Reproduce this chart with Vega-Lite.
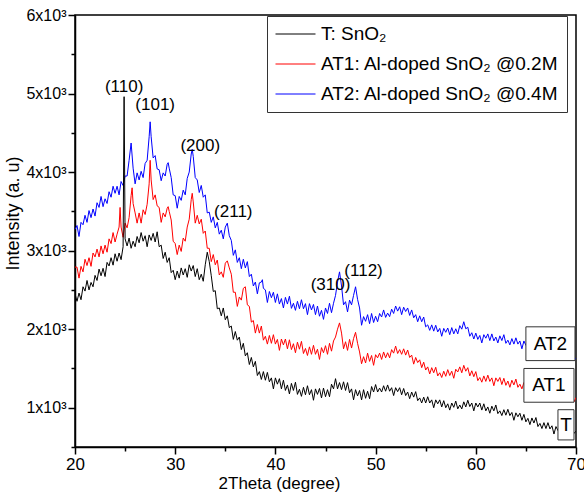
{
  "$schema": "https://vega.github.io/schema/vega-lite/v6.json",
  "width": 501,
  "height": 432,
  "autosize": {"type": "none"},
  "padding": {"left": 75, "top": 15, "right": 8, "bottom": 49},
  "background": "white",
  "config": {
    "font": "Liberation Sans",
    "view": {"stroke": "black", "strokeWidth": 1.5},
    "axis": {"grid": false, "domainColor": "black", "domainWidth": 1.5, "tickColor": "black", "tickWidth": 1.5, "labelColor": "black", "titleColor": "black", "labelFont": "Liberation Sans", "titleFont": "Liberation Sans", "titleFontWeight": "normal", "labelFontSize": 17, "titleFontSize": 17},
    "legend": {"labelFont": "Liberation Sans", "labelFontSize": 19, "labelColor": "black"}
  },
  "datasets": {
    "t": [
{"x":20.0,"y":2450},{"x":20.2,"y":2355},{"x":20.4,"y":2460},{"x":20.6,"y":2375},{"x":20.8,"y":2540},{"x":21.0,"y":2485},{"x":21.2,"y":2620},{"x":21.4,"y":2500},{"x":21.6,"y":2595},{"x":21.8,"y":2540},{"x":22.0,"y":2685},{"x":22.2,"y":2620},{"x":22.4,"y":2765},{"x":22.6,"y":2680},{"x":22.8,"y":2775},{"x":23.0,"y":2670},{"x":23.2,"y":2850},{"x":23.4,"y":2805},{"x":23.6,"y":2910},{"x":23.8,"y":2815},{"x":24.0,"y":2960},{"x":24.2,"y":2865},{"x":24.4,"y":2970},{"x":24.6,"y":2885},{"x":24.8,"y":3050},{"x":24.9,"y":4960},{"x":25.0,"y":3150},{"x":25.2,"y":3060},{"x":25.4,"y":3160},{"x":25.6,"y":3030},{"x":25.8,"y":3120},{"x":26.0,"y":3050},{"x":26.2,"y":3180},{"x":26.4,"y":3100},{"x":26.6,"y":3230},{"x":26.8,"y":3120},{"x":27.0,"y":3190},{"x":27.2,"y":3050},{"x":27.4,"y":3200},{"x":27.6,"y":3130},{"x":27.8,"y":3220},{"x":28.0,"y":3110},{"x":28.2,"y":3240},{"x":28.4,"y":3050},{"x":28.6,"y":3070},{"x":28.8,"y":2900},{"x":29.0,"y":2980},{"x":29.2,"y":2850},{"x":29.4,"y":2910},{"x":29.6,"y":2720},{"x":29.8,"y":2750},{"x":30.0,"y":2630},{"x":30.2,"y":2740},{"x":30.4,"y":2650},{"x":30.6,"y":2780},{"x":30.8,"y":2690},{"x":31.0,"y":2770},{"x":31.2,"y":2660},{"x":31.4,"y":2820},{"x":31.6,"y":2740},{"x":31.8,"y":2810},{"x":32.0,"y":2670},{"x":32.2,"y":2770},{"x":32.4,"y":2630},{"x":32.6,"y":2700},{"x":32.8,"y":2610},{"x":33.0,"y":2820},{"x":33.2,"y":2980},{"x":33.4,"y":2860},{"x":33.6,"y":2680},{"x":33.8,"y":2480},{"x":34.0,"y":2490},{"x":34.2,"y":2260},{"x":34.4,"y":2270},{"x":34.6,"y":2170},{"x":34.8,"y":2270},{"x":35.0,"y":2120},{"x":35.2,"y":2170},{"x":35.4,"y":2020},{"x":35.6,"y":2040},{"x":35.8,"y":1870},{"x":36.0,"y":1970},{"x":36.2,"y":1860},{"x":36.4,"y":1900},{"x":36.6,"y":1740},{"x":36.8,"y":1820},{"x":37.0,"y":1660},{"x":37.2,"y":1700},{"x":37.4,"y":1550},{"x":37.6,"y":1640},{"x":37.8,"y":1520},{"x":38.0,"y":1590},{"x":38.2,"y":1410},{"x":38.4,"y":1460},{"x":38.6,"y":1360},{"x":38.8,"y":1460},{"x":39.0,"y":1350},{"x":39.2,"y":1450},{"x":39.4,"y":1330},{"x":39.6,"y":1380},{"x":39.8,"y":1240},{"x":40.0,"y":1380},{"x":40.2,"y":1300},{"x":40.4,"y":1370},{"x":40.6,"y":1240},{"x":40.8,"y":1350},{"x":41.0,"y":1220},{"x":41.2,"y":1290},{"x":41.4,"y":1175},{"x":41.6,"y":1310},{"x":41.8,"y":1220},{"x":42.0,"y":1325},{"x":42.2,"y":1170},{"x":42.4,"y":1235},{"x":42.6,"y":1145},{"x":42.8,"y":1260},{"x":43.0,"y":1165},{"x":43.2,"y":1280},{"x":43.4,"y":1165},{"x":43.6,"y":1230},{"x":43.8,"y":1095},{"x":44.0,"y":1240},{"x":44.2,"y":1170},{"x":44.4,"y":1245},{"x":44.6,"y":1125},{"x":44.8,"y":1250},{"x":45.0,"y":1140},{"x":45.2,"y":1230},{"x":45.4,"y":1140},{"x":45.6,"y":1300},{"x":45.8,"y":1240},{"x":46.0,"y":1370},{"x":46.2,"y":1240},{"x":46.4,"y":1320},{"x":46.6,"y":1230},{"x":46.8,"y":1330},{"x":47.0,"y":1220},{"x":47.2,"y":1320},{"x":47.4,"y":1190},{"x":47.6,"y":1240},{"x":47.8,"y":1100},{"x":48.0,"y":1230},{"x":48.2,"y":1150},{"x":48.4,"y":1220},{"x":48.6,"y":1100},{"x":48.8,"y":1230},{"x":49.0,"y":1120},{"x":49.2,"y":1210},{"x":49.4,"y":1115},{"x":49.6,"y":1270},{"x":49.8,"y":1200},{"x":50.0,"y":1295},{"x":50.2,"y":1200},{"x":50.4,"y":1250},{"x":50.6,"y":1200},{"x":50.8,"y":1280},{"x":51.0,"y":1210},{"x":51.2,"y":1290},{"x":51.4,"y":1210},{"x":51.6,"y":1255},{"x":51.8,"y":1155},{"x":52.0,"y":1255},{"x":52.2,"y":1205},{"x":52.4,"y":1255},{"x":52.6,"y":1165},{"x":52.8,"y":1245},{"x":53.0,"y":1155},{"x":53.2,"y":1200},{"x":53.4,"y":1115},{"x":53.6,"y":1200},{"x":53.8,"y":1135},{"x":54.0,"y":1205},{"x":54.2,"y":1090},{"x":54.4,"y":1125},{"x":54.6,"y":1060},{"x":54.8,"y":1135},{"x":55.0,"y":1060},{"x":55.2,"y":1140},{"x":55.4,"y":1060},{"x":55.6,"y":1100},{"x":55.8,"y":1000},{"x":56.0,"y":1100},{"x":56.2,"y":1050},{"x":56.4,"y":1100},{"x":56.6,"y":1010},{"x":56.8,"y":1090},{"x":57.0,"y":1000},{"x":57.2,"y":1050},{"x":57.4,"y":970},{"x":57.6,"y":1060},{"x":57.8,"y":1005},{"x":58.0,"y":1085},{"x":58.2,"y":985},{"x":58.4,"y":1035},{"x":58.6,"y":985},{"x":58.8,"y":1075},{"x":59.0,"y":1010},{"x":59.2,"y":1095},{"x":59.4,"y":1015},{"x":59.6,"y":1060},{"x":59.8,"y":960},{"x":60.0,"y":1060},{"x":60.2,"y":1010},{"x":60.4,"y":1060},{"x":60.6,"y":970},{"x":60.8,"y":1050},{"x":61.0,"y":960},{"x":61.2,"y":1010},{"x":61.4,"y":930},{"x":61.6,"y":1020},{"x":61.8,"y":960},{"x":62.0,"y":1035},{"x":62.2,"y":925},{"x":62.4,"y":960},{"x":62.6,"y":900},{"x":62.8,"y":975},{"x":63.0,"y":905},{"x":63.2,"y":980},{"x":63.4,"y":900},{"x":63.6,"y":940},{"x":63.8,"y":840},{"x":64.0,"y":935},{"x":64.2,"y":885},{"x":64.4,"y":930},{"x":64.6,"y":840},{"x":64.8,"y":915},{"x":65.0,"y":820},{"x":65.2,"y":865},{"x":65.4,"y":785},{"x":65.6,"y":870},{"x":65.8,"y":805},{"x":66.0,"y":875},{"x":66.2,"y":760},{"x":66.4,"y":800},{"x":66.6,"y":735},{"x":66.8,"y":810},{"x":67.0,"y":735},{"x":67.2,"y":810},{"x":67.4,"y":730},{"x":67.6,"y":770},{"x":67.8,"y":665},{"x":68.0,"y":760},{"x":68.2,"y":710},{"x":68.4,"y":760},{"x":68.6,"y":670},{"x":68.8,"y":750},{"x":69.0,"y":665},{"x":69.2,"y":715},{"x":69.4,"y":640},{"x":69.6,"y":730},{"x":69.8,"y":675},{"x":70.0,"y":700}
    ],
    "a1": [
{"x":20.0,"y":2790},{"x":20.2,"y":2790},{"x":20.4,"y":2650},{"x":20.6,"y":2800},{"x":20.8,"y":2730},{"x":21.0,"y":2890},{"x":21.2,"y":2810},{"x":21.4,"y":2910},{"x":21.6,"y":2800},{"x":21.8,"y":2970},{"x":22.0,"y":2920},{"x":22.2,"y":3020},{"x":22.4,"y":2920},{"x":22.6,"y":3060},{"x":22.8,"y":2960},{"x":23.0,"y":3070},{"x":23.2,"y":2980},{"x":23.4,"y":3150},{"x":23.6,"y":3090},{"x":23.8,"y":3230},{"x":24.0,"y":3110},{"x":24.2,"y":3210},{"x":24.4,"y":3300},{"x":24.5,"y":3550},{"x":24.6,"y":3300},{"x":24.8,"y":3170},{"x":25.0,"y":3350},{"x":25.2,"y":3290},{"x":25.4,"y":3420},{"x":25.6,"y":3700},{"x":25.7,"y":3800},{"x":25.8,"y":3600},{"x":26.0,"y":3480},{"x":26.2,"y":3350},{"x":26.4,"y":3480},{"x":26.6,"y":3350},{"x":26.8,"y":3520},{"x":27.0,"y":3460},{"x":27.2,"y":3590},{"x":27.4,"y":3850},{"x":27.5,"y":4150},{"x":27.6,"y":3900},{"x":27.8,"y":3650},{"x":28.0,"y":3710},{"x":28.2,"y":3570},{"x":28.4,"y":3550},{"x":28.6,"y":3360},{"x":28.8,"y":3480},{"x":29.0,"y":3430},{"x":29.2,"y":3540},{"x":29.3,"y":3560},{"x":29.4,"y":3500},{"x":29.6,"y":3390},{"x":29.8,"y":3120},{"x":30.0,"y":3090},{"x":30.2,"y":2950},{"x":30.4,"y":3070},{"x":30.6,"y":2990},{"x":30.8,"y":3160},{"x":31.0,"y":3120},{"x":31.2,"y":3300},{"x":31.4,"y":3400},{"x":31.6,"y":3650},{"x":31.7,"y":3730},{"x":31.8,"y":3620},{"x":32.0,"y":3350},{"x":32.2,"y":3450},{"x":32.4,"y":3340},{"x":32.6,"y":3400},{"x":32.8,"y":3220},{"x":33.0,"y":3250},{"x":33.2,"y":3030},{"x":33.4,"y":3030},{"x":33.6,"y":2860},{"x":33.8,"y":2950},{"x":34.0,"y":2820},{"x":34.2,"y":2880},{"x":34.4,"y":2690},{"x":34.6,"y":2730},{"x":34.8,"y":2660},{"x":35.0,"y":2840},{"x":35.2,"y":2870},{"x":35.4,"y":2780},{"x":35.6,"y":2700},{"x":35.8,"y":2470},{"x":36.0,"y":2470},{"x":36.2,"y":2290},{"x":36.4,"y":2410},{"x":36.6,"y":2370},{"x":36.8,"y":2520},{"x":37.0,"y":2540},{"x":37.2,"y":2310},{"x":37.4,"y":2290},{"x":37.6,"y":2090},{"x":37.8,"y":2110},{"x":38.0,"y":1950},{"x":38.2,"y":2060},{"x":38.4,"y":1950},{"x":38.6,"y":2040},{"x":38.8,"y":1860},{"x":39.0,"y":1910},{"x":39.2,"y":1810},{"x":39.4,"y":1920},{"x":39.6,"y":1820},{"x":39.8,"y":1930},{"x":40.0,"y":1810},{"x":40.2,"y":1870},{"x":40.4,"y":1730},{"x":40.6,"y":1875},{"x":40.8,"y":1800},{"x":41.0,"y":1875},{"x":41.2,"y":1750},{"x":41.4,"y":1865},{"x":41.6,"y":1740},{"x":41.8,"y":1815},{"x":42.0,"y":1700},{"x":42.2,"y":1835},{"x":42.4,"y":1745},{"x":42.6,"y":1845},{"x":42.8,"y":1690},{"x":43.0,"y":1755},{"x":43.2,"y":1665},{"x":43.4,"y":1775},{"x":43.6,"y":1680},{"x":43.8,"y":1795},{"x":44.0,"y":1680},{"x":44.2,"y":1745},{"x":44.4,"y":1615},{"x":44.6,"y":1765},{"x":44.8,"y":1700},{"x":45.0,"y":1790},{"x":45.2,"y":1680},{"x":45.4,"y":1820},{"x":45.6,"y":1720},{"x":45.8,"y":1850},{"x":46.0,"y":1900},{"x":46.2,"y":2000},{"x":46.4,"y":2080},{"x":46.6,"y":1950},{"x":46.8,"y":1750},{"x":47.0,"y":1840},{"x":47.2,"y":1730},{"x":47.4,"y":1870},{"x":47.6,"y":1760},{"x":47.8,"y":1880},{"x":48.0,"y":1960},{"x":48.2,"y":1820},{"x":48.4,"y":1710},{"x":48.6,"y":1560},{"x":48.8,"y":1650},{"x":49.0,"y":1570},{"x":49.2,"y":1695},{"x":49.4,"y":1590},{"x":49.6,"y":1665},{"x":49.8,"y":1540},{"x":50.0,"y":1675},{"x":50.2,"y":1635},{"x":50.4,"y":1695},{"x":50.6,"y":1615},{"x":50.8,"y":1710},{"x":51.0,"y":1635},{"x":51.2,"y":1700},{"x":51.4,"y":1635},{"x":51.6,"y":1740},{"x":51.8,"y":1695},{"x":52.0,"y":1785},{"x":52.2,"y":1690},{"x":52.4,"y":1740},{"x":52.6,"y":1680},{"x":52.8,"y":1750},{"x":53.0,"y":1670},{"x":53.2,"y":1735},{"x":53.4,"y":1640},{"x":53.6,"y":1670},{"x":53.8,"y":1555},{"x":54.0,"y":1640},{"x":54.2,"y":1575},{"x":54.4,"y":1610},{"x":54.6,"y":1510},{"x":54.8,"y":1580},{"x":55.0,"y":1480},{"x":55.2,"y":1520},{"x":55.4,"y":1430},{"x":55.6,"y":1510},{"x":55.8,"y":1445},{"x":56.0,"y":1515},{"x":56.2,"y":1405},{"x":56.4,"y":1445},{"x":56.6,"y":1385},{"x":56.8,"y":1465},{"x":57.0,"y":1400},{"x":57.2,"y":1485},{"x":57.4,"y":1410},{"x":57.6,"y":1465},{"x":57.8,"y":1375},{"x":58.0,"y":1490},{"x":58.2,"y":1455},{"x":58.4,"y":1520},{"x":58.6,"y":1445},{"x":58.8,"y":1540},{"x":59.0,"y":1465},{"x":59.2,"y":1510},{"x":59.4,"y":1405},{"x":59.6,"y":1470},{"x":59.8,"y":1395},{"x":60.0,"y":1460},{"x":60.2,"y":1345},{"x":60.4,"y":1385},{"x":60.6,"y":1325},{"x":60.8,"y":1405},{"x":61.0,"y":1335},{"x":61.2,"y":1415},{"x":61.4,"y":1335},{"x":61.6,"y":1380},{"x":61.8,"y":1280},{"x":62.0,"y":1380},{"x":62.2,"y":1335},{"x":62.4,"y":1385},{"x":62.6,"y":1295},{"x":62.8,"y":1375},{"x":63.0,"y":1285},{"x":63.2,"y":1340},{"x":63.4,"y":1260},{"x":63.6,"y":1350},{"x":63.8,"y":1290},{"x":64.0,"y":1365},{"x":64.2,"y":1260},{"x":64.4,"y":1300},{"x":64.6,"y":1240},{"x":64.8,"y":1320},{"x":65.0,"y":1250},{"x":65.2,"y":1330},{"x":65.4,"y":1250},{"x":65.6,"y":1295},{"x":65.8,"y":1195},{"x":66.0,"y":1295},{"x":66.2,"y":1245},{"x":66.4,"y":1295},{"x":66.6,"y":1205},{"x":66.8,"y":1285},{"x":67.0,"y":1195},{"x":67.2,"y":1245},{"x":67.4,"y":1165},{"x":67.6,"y":1250},{"x":67.8,"y":1190},{"x":68.0,"y":1265},{"x":68.2,"y":1155},{"x":68.4,"y":1195},{"x":68.6,"y":1130},{"x":68.8,"y":1210},{"x":69.0,"y":1140},{"x":69.2,"y":1215},{"x":69.4,"y":1135},{"x":69.6,"y":1180},{"x":69.8,"y":1075},{"x":70.0,"y":1130}
    ],
    "a2": [
{"x":20.0,"y":3270},{"x":20.2,"y":3320},{"x":20.4,"y":3180},{"x":20.6,"y":3360},{"x":20.8,"y":3330},{"x":21.0,"y":3450},{"x":21.2,"y":3360},{"x":21.4,"y":3510},{"x":21.6,"y":3420},{"x":21.8,"y":3530},{"x":22.0,"y":3440},{"x":22.2,"y":3610},{"x":22.4,"y":3550},{"x":22.6,"y":3690},{"x":22.8,"y":3560},{"x":23.0,"y":3660},{"x":23.2,"y":3600},{"x":23.4,"y":3750},{"x":23.6,"y":3680},{"x":23.8,"y":3820},{"x":24.0,"y":3730},{"x":24.2,"y":3820},{"x":24.4,"y":3710},{"x":24.6,"y":3880},{"x":24.8,"y":3830},{"x":25.0,"y":3950},{"x":25.2,"y":3950},{"x":25.4,"y":4150},{"x":25.6,"y":4370},{"x":25.8,"y":4050},{"x":26.0,"y":3850},{"x":26.2,"y":3990},{"x":26.4,"y":3900},{"x":26.6,"y":4010},{"x":26.8,"y":3930},{"x":27.0,"y":4110},{"x":27.2,"y":4150},{"x":27.4,"y":4450},{"x":27.5,"y":4640},{"x":27.6,"y":4450},{"x":27.8,"y":4180},{"x":28.0,"y":4210},{"x":28.2,"y":4040},{"x":28.4,"y":4030},{"x":28.6,"y":3890},{"x":28.8,"y":3990},{"x":29.0,"y":3950},{"x":29.2,"y":4100},{"x":29.3,"y":4120},{"x":29.4,"y":4050},{"x":29.6,"y":3930},{"x":29.8,"y":3710},{"x":30.0,"y":3700},{"x":30.2,"y":3540},{"x":30.4,"y":3690},{"x":30.6,"y":3640},{"x":30.8,"y":3770},{"x":31.0,"y":3710},{"x":31.2,"y":3920},{"x":31.4,"y":4000},{"x":31.6,"y":4230},{"x":31.7,"y":4290},{"x":31.8,"y":4200},{"x":32.0,"y":3930},{"x":32.2,"y":3900},{"x":32.4,"y":3740},{"x":32.6,"y":3830},{"x":32.8,"y":3680},{"x":33.0,"y":3710},{"x":33.2,"y":3480},{"x":33.4,"y":3490},{"x":33.6,"y":3360},{"x":33.8,"y":3430},{"x":34.0,"y":3290},{"x":34.2,"y":3360},{"x":34.4,"y":3210},{"x":34.6,"y":3260},{"x":34.8,"y":3150},{"x":35.0,"y":3300},{"x":35.2,"y":3350},{"x":35.4,"y":3190},{"x":35.6,"y":3130},{"x":35.8,"y":2940},{"x":36.0,"y":3010},{"x":36.2,"y":2850},{"x":36.4,"y":2910},{"x":36.6,"y":2770},{"x":36.8,"y":2890},{"x":37.0,"y":2780},{"x":37.2,"y":2860},{"x":37.4,"y":2670},{"x":37.6,"y":2700},{"x":37.8,"y":2550},{"x":38.0,"y":2600},{"x":38.2,"y":2450},{"x":38.4,"y":2590},{"x":38.6,"y":2600},{"x":38.7,"y":2630},{"x":38.8,"y":2520},{"x":39.0,"y":2500},{"x":39.2,"y":2340},{"x":39.4,"y":2480},{"x":39.6,"y":2400},{"x":39.8,"y":2470},{"x":40.0,"y":2340},{"x":40.2,"y":2450},{"x":40.4,"y":2320},{"x":40.6,"y":2390},{"x":40.8,"y":2270},{"x":41.0,"y":2405},{"x":41.2,"y":2320},{"x":41.4,"y":2420},{"x":41.6,"y":2265},{"x":41.8,"y":2330},{"x":42.0,"y":2240},{"x":42.2,"y":2355},{"x":42.4,"y":2260},{"x":42.6,"y":2375},{"x":42.8,"y":2260},{"x":43.0,"y":2325},{"x":43.2,"y":2185},{"x":43.4,"y":2325},{"x":43.6,"y":2245},{"x":43.8,"y":2315},{"x":44.0,"y":2185},{"x":44.2,"y":2295},{"x":44.4,"y":2165},{"x":44.6,"y":2240},{"x":44.8,"y":2125},{"x":45.0,"y":2270},{"x":45.2,"y":2200},{"x":45.4,"y":2330},{"x":45.6,"y":2210},{"x":45.8,"y":2330},{"x":46.0,"y":2430},{"x":46.2,"y":2600},{"x":46.4,"y":2730},{"x":46.6,"y":2550},{"x":46.8,"y":2310},{"x":47.0,"y":2350},{"x":47.2,"y":2220},{"x":47.4,"y":2370},{"x":47.6,"y":2310},{"x":47.8,"y":2430},{"x":48.0,"y":2540},{"x":48.2,"y":2380},{"x":48.4,"y":2270},{"x":48.6,"y":2050},{"x":48.8,"y":2160},{"x":49.0,"y":2100},{"x":49.2,"y":2185},{"x":49.4,"y":2070},{"x":49.6,"y":2200},{"x":49.8,"y":2085},{"x":50.0,"y":2165},{"x":50.2,"y":2095},{"x":50.4,"y":2200},{"x":50.6,"y":2155},{"x":50.8,"y":2245},{"x":51.0,"y":2150},{"x":51.2,"y":2205},{"x":51.4,"y":2160},{"x":51.6,"y":2255},{"x":51.8,"y":2200},{"x":52.0,"y":2295},{"x":52.2,"y":2230},{"x":52.4,"y":2285},{"x":52.6,"y":2185},{"x":52.8,"y":2280},{"x":53.0,"y":2225},{"x":53.2,"y":2270},{"x":53.4,"y":2175},{"x":53.6,"y":2245},{"x":53.8,"y":2145},{"x":54.0,"y":2185},{"x":54.2,"y":2095},{"x":54.4,"y":2170},{"x":54.6,"y":2095},{"x":54.8,"y":2155},{"x":55.0,"y":2030},{"x":55.2,"y":2055},{"x":55.4,"y":1985},{"x":55.6,"y":2055},{"x":55.8,"y":1975},{"x":56.0,"y":2050},{"x":56.2,"y":1965},{"x":56.4,"y":2010},{"x":56.6,"y":1910},{"x":56.8,"y":2010},{"x":57.0,"y":1960},{"x":57.2,"y":2015},{"x":57.4,"y":1930},{"x":57.6,"y":2020},{"x":57.8,"y":1940},{"x":58.0,"y":2005},{"x":58.2,"y":1940},{"x":58.4,"y":2045},{"x":58.6,"y":2000},{"x":58.8,"y":2095},{"x":59.0,"y":2005},{"x":59.2,"y":2025},{"x":59.4,"y":1910},{"x":59.6,"y":1955},{"x":59.8,"y":1875},{"x":60.0,"y":1950},{"x":60.2,"y":1870},{"x":60.4,"y":1920},{"x":60.6,"y":1825},{"x":60.8,"y":1930},{"x":61.0,"y":1885},{"x":61.2,"y":1940},{"x":61.4,"y":1855},{"x":61.6,"y":1940},{"x":61.8,"y":1850},{"x":62.0,"y":1900},{"x":62.2,"y":1825},{"x":62.4,"y":1915},{"x":62.6,"y":1855},{"x":62.8,"y":1930},{"x":63.0,"y":1820},{"x":63.2,"y":1860},{"x":63.4,"y":1800},{"x":63.6,"y":1880},{"x":63.8,"y":1810},{"x":64.0,"y":1890},{"x":64.2,"y":1810},{"x":64.4,"y":1850},{"x":64.6,"y":1750},{"x":64.8,"y":1850},{"x":65.0,"y":1795},{"x":65.2,"y":1845},{"x":65.4,"y":1755},{"x":65.6,"y":1830},{"x":65.8,"y":1740},{"x":66.0,"y":1790},{"x":66.2,"y":1705},{"x":66.4,"y":1795},{"x":66.6,"y":1730},{"x":66.8,"y":1805},{"x":67.0,"y":1690},{"x":67.2,"y":1730},{"x":67.4,"y":1665},{"x":67.6,"y":1745},{"x":67.8,"y":1670},{"x":68.0,"y":1750},{"x":68.2,"y":1670},{"x":68.4,"y":1710},{"x":68.6,"y":1610},{"x":68.8,"y":1710},{"x":69.0,"y":1655},{"x":69.2,"y":1705},{"x":69.4,"y":1615},{"x":69.6,"y":1695},{"x":69.8,"y":1605},{"x":70.0,"y":1635}
    ],
    "peaks": [
      {"x": 24.9, "y": 5080, "t": "(110)"},
      {"x": 28.0, "y": 4850, "t": "(101)"},
      {"x": 32.5, "y": 4330, "t": "(200)"},
      {"x": 35.8, "y": 3490, "t": "(211)"},
      {"x": 45.5, "y": 2560, "t": "(310)"},
      {"x": 48.8, "y": 2740, "t": "(112)"}
    ],
    "boxes": [
      {"x": 65.0, "x2": 69.9, "y": 1600, "y2": 2030, "t": "AT2", "tx": 67.45, "ty": 1815},
      {"x": 64.8, "x2": 69.8, "y": 1070, "y2": 1500, "t": "AT1", "tx": 67.3, "ty": 1285},
      {"x": 68.2, "x2": 69.8, "y": 590, "y2": 975, "t": "T", "tx": 69.0, "ty": 782}
    ]
  },
  "encoding": {
    "x": {
      "field": "x", "type": "quantitative",
      "scale": {"domain": [20, 70], "nice": false, "zero": false},
      "axis": {
        "title": "2Theta (degree)",
        "values": [20, 25, 30, 35, 40, 45, 50, 55, 60, 65, 70],
        "labelExpr": "datum.value % 10 === 0 ? datum.label : ''",
        "tickSize": {"condition": {"test": "datum.value % 10 === 0", "value": 7}, "value": 4},
        "labelPadding": 2, "titlePadding": 3, "titleX": 204, "titleAlign": "center", "labelFlush": false
      }
    },
    "y": {
      "field": "y", "type": "quantitative",
      "scale": {"domain": [500, 6000], "nice": false, "zero": false},
      "axis": {
        "title": "Intensity (a. u)",
        "values": [500, 1000, 1500, 2000, 2500, 3000, 3500, 4000, 4500, 5000, 5500, 6000],
        "labelExpr": "datum.value % 1000 === 0 ? (datum.value / 1000) + 'x10³' : ''",
        "tickSize": {"condition": {"test": "datum.value % 1000 === 0", "value": 7}, "value": 4},
        "labelPadding": 2, "titlePadding": 3, "titleY": 198, "titleAlign": "center", "labelFontSize": 16, "titleFontSize": 18, "labelFlush": false
      }
    }
  },
  "layer": [
    {
      "data": {"name": "a2"},
      "mark": {"type": "line", "strokeWidth": 1, "clip": true},
      "encoding": {
        "color": {"datum": "AT2: Al-doped SnO₂ @0.4M", "type": "nominal",
          "scale": {"domain": ["T: SnO₂", "AT1: Al-doped SnO₂ @0.2M", "AT2: Al-doped SnO₂ @0.4M"], "range": ["#000000", "#ff0000", "#0000ff"]},
          "legend": {"title": null, "orient": "none", "legendX": 192, "legendY": 1, "fillColor": "white", "strokeColor": "#333333", "padding": 8, "symbolType": "stroke", "symbolSize": 1600, "symbolStrokeWidth": 1, "clipHeight": 20, "rowPadding": 10, "labelOffset": 5, "labelLimit": 0,
            "encode": {"symbols": {"update": {"stroke": {"scale": "color", "field": "value"}}}}}}
      }
    },
    {
      "data": {"name": "a1"},
      "mark": {"type": "line", "strokeWidth": 1, "clip": true},
      "encoding": {"color": {"datum": "AT1: Al-doped SnO₂ @0.2M", "type": "nominal"}}
    },
    {
      "data": {"name": "t"},
      "mark": {"type": "line", "strokeWidth": 1, "clip": true},
      "encoding": {"color": {"datum": "T: SnO₂", "type": "nominal"}}
    },
    {
      "data": {"name": "peaks"},
      "mark": {"type": "text", "fontSize": 17, "color": "black", "align": "center", "baseline": "middle"},
      "encoding": {"text": {"field": "t"}}
    },
    {
      "data": {"name": "boxes"},
      "mark": {"type": "rect", "fill": "white", "stroke": "#333333", "strokeWidth": 1},
      "encoding": {"x2": {"field": "x2"}, "y2": {"field": "y2"}}
    },
    {
      "data": {"name": "boxes"},
      "mark": {"type": "text", "fontSize": 19, "color": "black", "align": "center", "baseline": "middle"},
      "encoding": {"x": {"field": "tx", "type": "quantitative"}, "y": {"field": "ty", "type": "quantitative"}, "text": {"field": "t"}}
    }
  ]
}
